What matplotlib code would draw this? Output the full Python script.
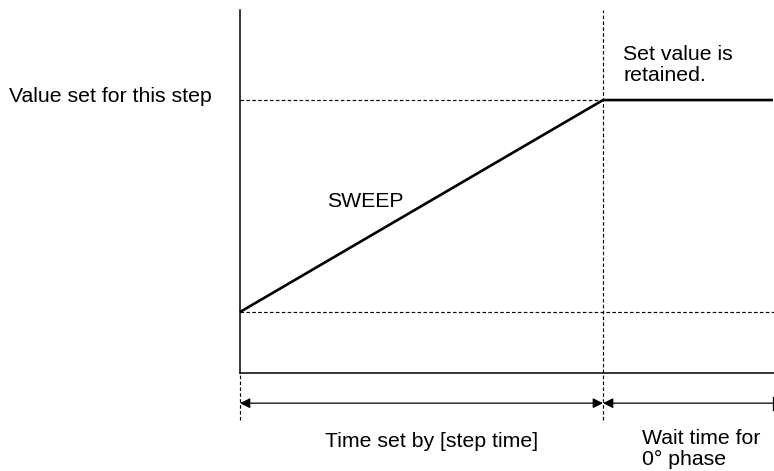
import matplotlib.pyplot as plt

plt.rcParams['font.family'] = ['Liberation Sans', 'DejaVu Sans']

# time points (step start, step end, end of wait) and the set value at each
time = [0.0, 1.0, 1.468]
value = [0.0, 1.0, 1.0]

# time axis level, arrow level, bottom of the guide lines, top of the value axis
base_y = -0.288
arrow_y = -0.43
guide_bottom = -0.51
axis_top = 1.425

fig = plt.figure(figsize=(7.74, 4.71), dpi=100)
ax = fig.add_axes([0, 0, 1, 1])
ax.set_xlim(-0.661, 1.471)
ax.set_ylim(-0.75, 1.472)
ax.axis('off')

dash = (0, (3, 2))
# value axis and time axis
ax.plot([time[0], time[0]], [base_y, axis_top], color='black', lw=1.1)
ax.plot([time[0], time[2] + 0.01], [base_y, base_y], color='black', lw=1.1)

# guide lines
ax.plot([time[0], time[0]], [guide_bottom, base_y], color='black', lw=0.85, ls=dash)
ax.plot([time[1], time[1]], [guide_bottom, axis_top], color='black', lw=0.85, ls=dash)
ax.plot([time[0], time[1]], [value[1], value[1]], color='black', lw=0.85, ls=dash)
ax.plot([time[0], time[2] + 0.01], [value[0], value[0]], color='black', lw=0.85, ls=dash)

# sweep then hold
ax.plot(time, value, color='black', lw=1.9, solid_capstyle='butt')

# time spans
ax.annotate('', xy=(time[0], arrow_y), xytext=(time[1], arrow_y),
            arrowprops=dict(arrowstyle='<|-|>', color='black', lw=0.9,
                            mutation_scale=15, shrinkA=0, shrinkB=0))
ax.annotate('', xy=(time[1], arrow_y), xytext=(time[2], arrow_y),
            arrowprops=dict(arrowstyle='-|>', color='black', lw=0.9,
                            mutation_scale=15, shrinkA=0, shrinkB=0))
ax.plot([time[2], time[2]], [arrow_y - 0.03, arrow_y + 0.03], color='black', lw=0.9)

fs = 15.3
ax.text(-0.636, value[1] + 0.015, 'Value set for this step', fontsize=fs, va='center', ha='left')
ax.text(0.24, 0.52, 'SWEEP', fontsize=fs, va='center', ha='left')
ax.text(1.056, 1.165, 'Set value is\nretained.', fontsize=fs, va='center', ha='left',
        linespacing=1.12)
ax.text(0.529, -0.613, 'Time set by [step time]', fontsize=fs, va='center', ha='center')
ax.text(1.107, -0.645, 'Wait time for\n0\u00b0 phase', fontsize=fs, va='center', ha='left',
        linespacing=1.15)

fig.savefig('out.png', dpi=100)
